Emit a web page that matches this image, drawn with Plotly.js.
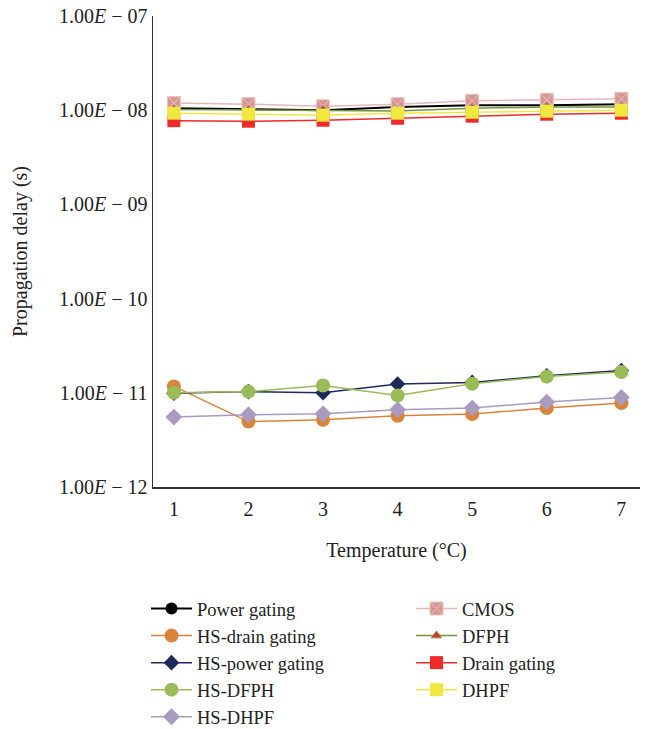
<!DOCTYPE html>
<html>
<head>
<meta charset="utf-8">
<script src="https://cdn.plot.ly/plotly-3.0.1.min.js"></script>
<style>html,body{margin:0;padding:0;background:#fff;}#chart{width:647px;height:729px;}</style>
</head>
<body>
<div id="chart"></div>
<script>
// Temperature index (x axis)
const temperature = [1, 2, 3, 4, 5, 6, 7];

// Propagation delay (s) per technique
const powerGating     = [1.05e-8, 1.02e-8, 1.00e-8, 1.08e-8, 1.13e-8, 1.13e-8, 1.16e-8];
const hsDrainGating   = [1.17e-11, 0.495e-11, 0.517e-11, 0.570e-11, 0.594e-11, 0.688e-11, 0.777e-11];
const hsPowerGating   = [0.99e-11, 1.03e-11, 1.00e-11, 1.24e-11, 1.29e-11, 1.515e-11, 1.72e-11];
const hsDFPH          = [1.00e-11, 1.03e-11, 1.195e-11, 0.936e-11, 1.246e-11, 1.49e-11, 1.66e-11];
const hsDHPF          = [0.552e-11, 0.584e-11, 0.598e-11, 0.660e-11, 0.688e-11, 0.797e-11, 0.892e-11];
const cmos            = [1.19e-8, 1.16e-8, 1.10e-8, 1.16e-8, 1.26e-8, 1.29e-8, 1.32e-8];
const dfph            = [1.02e-8, 1.01e-8, 1.00e-8, 0.98e-8, 1.05e-8, 1.08e-8, 1.08e-8];
const drainGating     = [0.774e-8, 0.764e-8, 0.783e-8, 0.822e-8, 0.864e-8, 0.907e-8, 0.93e-8];
const dhpf            = [0.93e-8, 0.907e-8, 0.885e-8, 0.93e-8, 0.95e-8, 0.976e-8, 1.0e-8];

// Y tick labels
const yTickVals = [1e-12, 1e-11, 1e-10, 1e-9, 1e-8, 1e-7];
const yTickText = ["1.00<i>E</i> − 12", "1.00<i>E</i> − 11", "1.00<i>E</i> − 10",
                   "1.00<i>E</i> − 09", "1.00<i>E</i> − 08", "1.00<i>E</i> − 07"];

const FONT = "Liberation Serif, Times New Roman, serif";
const FS = 20;

function tr(name, y, lineColor, marker, legend, group, lw) {
  return {
    x: temperature, y: y, name: name, type: 'scatter', mode: 'lines+markers',
    line: {color: lineColor, width: lw || 1.5},
    marker: marker, legend: legend, legendgroup: group
  };
}

const data = [
  tr('Power gating', powerGating, '#000000',
     {symbol: 'circle', size: 12, color: '#000000'}, 'legend', 'g1', 2),
  tr('HS-drain gating', hsDrainGating, '#D9843B',
     {symbol: 'circle', size: 14, color: '#D9843B'}, 'legend', 'g2'),
  tr('HS-power gating', hsPowerGating, '#1F2A5C',
     {symbol: 'diamond', size: 12, color: '#1F2A5C'}, 'legend', 'g3'),
  tr('HS-DFPH', hsDFPH, '#9BBB59',
     {symbol: 'circle', size: 14, color: '#9BBB59'}, 'legend', 'g4'),
  tr('HS-DHPF', hsDHPF, '#A99BC0',
     {symbol: 'diamond', size: 13, color: '#A99BC0'}, 'legend', 'g5'),
  tr('CMOS', cmos, '#E6B9B8',
     {symbol: 'square-x', size: 13, color: '#D99594', line: {color: '#EAC4C3', width: 1}}, 'legend2', 'g6'),
  tr('DFPH', dfph, '#77933C',
     {symbol: 'triangle-up', size: 9, color: '#EE2A2A', line: {color: '#77933C', width: 1}}, 'legend2', 'g7'),
  tr('Drain gating', drainGating, '#EE2A2A',
     {symbol: 'square', size: 13, color: '#EE2A2A'}, 'legend2', 'g8'),
  tr('DHPF', dhpf, '#F0E840',
     {symbol: 'square', size: 13, color: '#F0E840'}, 'legend2', 'g9')
];

const legendBase = {
  xanchor: 'left', yanchor: 'top',
  traceorder: 'grouped', tracegroupgap: 0, itemwidth: 41,
  font: {family: FONT, size: 18.5, color: '#222222'}, bgcolor: 'rgba(0,0,0,0)'
};

const PW = 647 - 153 - 7, PH = 487 - 16;

const layout = {
  width: 647, height: 729,
  margin: {l: 153, r: 7, t: 16, b: 242, autoexpand: false},
  paper_bgcolor: '#ffffff', plot_bgcolor: '#ffffff',
  font: {family: FONT, size: FS, color: '#222222'},
  showlegend: true,
  xaxis: {
    range: [0.72, 7.25], tickvals: temperature, ticks: '', showgrid: false, zeroline: false,
    showline: true, linecolor: '#333333', linewidth: 1.5, ticklabelstandoff: 3,
    tickfont: {family: FONT, size: FS, color: '#222222'},
    title: {text: 'Temperature (°C)', font: {family: FONT, size: FS, color: '#222222'}, standoff: 24},
    automargin: false
  },
  yaxis: {
    type: 'log', range: [-12, -7], tickvals: yTickVals, ticktext: yTickText,
    ticks: '', showgrid: false, zeroline: false,
    showline: true, linecolor: '#333333', linewidth: 1.5,
    tickfont: {family: FONT, size: FS, color: '#222222'},
    title: {text: 'Propagation delay (s)', font: {family: FONT, size: FS, color: '#222222'}, standoff: 26},
    automargin: false
  },
  legend: Object.assign({}, legendBase, {x: (146 - 153) / PW, y: (487 - 590) / PH}),
  legend2: Object.assign({}, legendBase, {x: (411 - 153) / PW, y: (487 - 590) / PH})
};

Plotly.newPlot('chart', data, layout, {displayModeBar: false, staticPlot: true});
</script>
</body>
</html>
